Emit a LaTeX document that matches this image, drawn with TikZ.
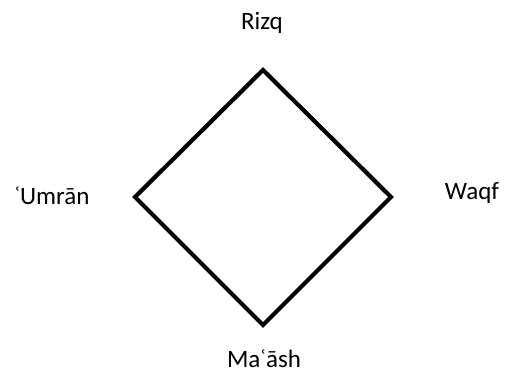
\documentclass[tikz,border=0pt]{standalone}
\usepackage{fontspec}
\setmainfont{Carlito}
\begin{document}
\begin{tikzpicture}[x=1pt,y=-1pt,
  lbl/.style={font=\fontsize{25}{30}\selectfont, inner sep=0pt, anchor=base},
  edge/.style={line width=4.2pt, line join=miter}]
\useasboundingbox (0,0) rectangle (508,372);
\coordinate (T) at (263,70);
\coordinate (R) at (391,197);
\coordinate (B) at (263,325);
\coordinate (L) at (135,197);
\draw[edge] (T) -- (R) -- (B) -- (L) -- cycle;
\node[lbl] (rizq) at (262,29) {Rizq};
\node[lbl] (waqf) at (472,199) {Waqf};
\node[lbl] (umran) at (52,204) {ʿUmrān};
\node[lbl] (maash) at (264,367) {Maʿāsh};
\end{tikzpicture}
\end{document}
